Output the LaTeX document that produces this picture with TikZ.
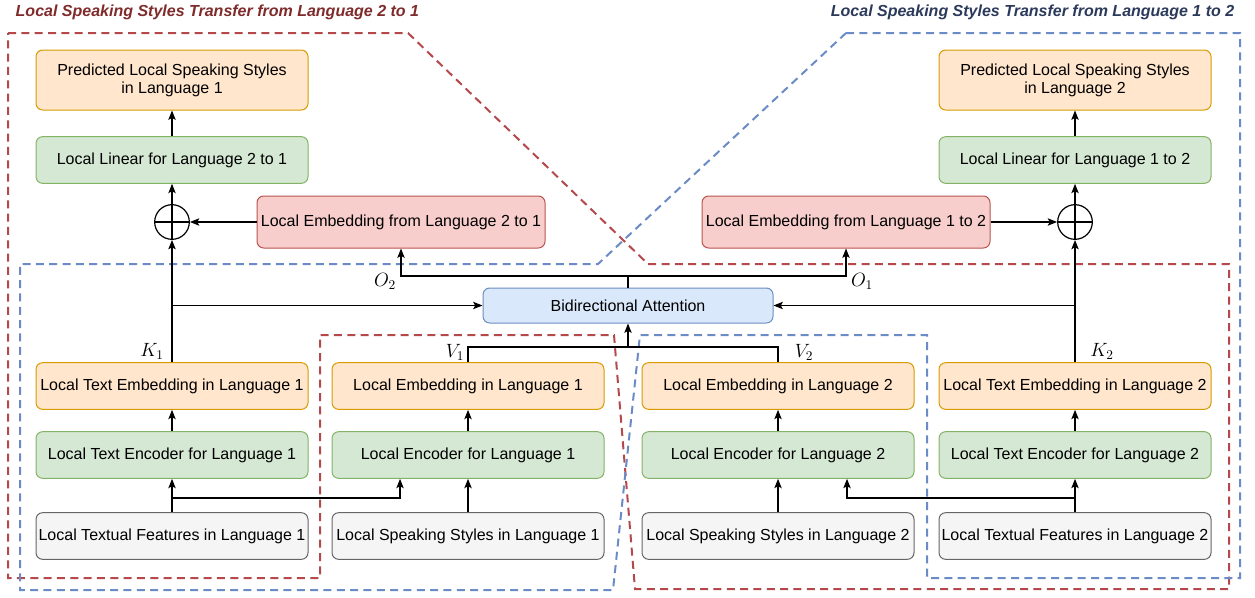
\documentclass[tikz,border=0pt]{standalone}
\usepackage[no-math]{fontspec}
\setmainfont{Liberation Sans}
\usepackage{xcolor}
\usetikzlibrary{arrows.meta}

\definecolor{orangefill}{HTML}{FFE6CC}
\definecolor{orangeline}{HTML}{D79B00}
\definecolor{greenfill}{HTML}{D5E8D4}
\definecolor{greenline}{HTML}{82B366}
\definecolor{redfill}{HTML}{F8CECC}
\definecolor{redline}{HTML}{B85450}
\definecolor{bluefill}{HTML}{DAE8FC}
\definecolor{blueline}{HTML}{6C8EBF}
\definecolor{greyfill}{HTML}{F5F5F5}
\definecolor{greyline}{HTML}{666666}
\definecolor{titlered}{HTML}{7F2B2B}
\definecolor{titleblue}{HTML}{2B3A5A}
\definecolor{regionred}{HTML}{B5484B}
\definecolor{regionblue}{HTML}{6A8BC5}

\begin{document}
\begin{tikzpicture}[x=0.75pt, y=-0.75pt,
  box/.style={rounded corners=5pt, line width=0.75pt, minimum width=204pt,
    minimum height=35pt, inner xsep=1pt, align=center,
    font=\fontsize{12}{13.5}\selectfont},
  orangebox/.style={box, draw=orangeline, fill=orangefill},
  greenbox/.style={box, draw=greenline, fill=greenfill},
  redbox/.style={box, draw=redline, fill=redfill, minimum width=216pt, minimum height=39pt},
  bluebox/.style={box, draw=blueline, fill=bluefill, minimum width=217.5pt, minimum height=26.25pt},
  greybox/.style={box, draw=greyline, fill=greyfill},
  oplus/.style={circle, draw, line width=0.9pt, minimum size=26pt, inner sep=0pt,
    path picture={\draw[line width=0.9pt] (path picture bounding box.north) -- (path picture bounding box.south)
      (path picture bounding box.west) -- (path picture bounding box.east);}},
  conn/.style={line width=0.9pt, -{Stealth[length=7pt,width=5.5pt,inset=1.5pt]}},
  wire/.style={line width=0.9pt},
  region/.style={line width=1.5pt, dash pattern=on 6pt off 4pt},
  lbl/.style={font=\fontsize{14}{16}\selectfont},
  title/.style={font=\fontsize{12}{14}\selectfont\bfseries\itshape}
]
  \useasboundingbox (0,0) rectangle (1255,597);

  % dashed regions
  \draw[region, regionred] (8,33) -- (408,33) -- (648,264) -- (1229,264) -- (1229,589)
    -- (635,589) -- (614,335) -- (320,335) -- (320,578) -- (8,578) -- cycle;
  \draw[region, regionblue] (846,33) -- (1240,33) -- (1240,578) -- (927,578) -- (927,335)
    -- (640,335) -- (613,590) -- (20,590) -- (20,264) -- (598,264) -- cycle;

  % titles
  \node[title, text=titlered, anchor=west] (title21) at (11,12) {Local Speaking Styles Transfer from Language 2 to 1};
  \node[title, text=titleblue, anchor=east] (title12) at (1239,12) {Local Speaking Styles Transfer from Language 1 to 2};

  % upper part, language 2 to 1
  \node[orangebox, minimum height=45pt] (pred1) at (172,80) {Predicted Local Speaking Styles\\in Language 1};
  \node[greenbox] (lin21) at (172,160) {Local Linear for Language 2 to 1};
  \node[oplus] (sum1) at (172,222) {};
  \node[redbox] (emb21) at (401,222) {Local Embedding from Language 2 to 1};

  % upper part, language 1 to 2
  \node[orangebox, minimum height=45pt] (pred2) at (1075,80) {Predicted Local Speaking Styles\\in Language 2};
  \node[greenbox] (lin12) at (1075,160) {Local Linear for Language 1 to 2};
  \node[oplus] (sum2) at (1075,222) {};
  \node[redbox] (emb12) at (846,222) {Local Embedding from Language 1 to 2};

  \node[bluebox] (att) at (628,305.5) {Bidirectional Attention};

  % embeddings
  \node[orangebox] (temb1) at (172,386) {Local Text Embedding in Language 1};
  \node[orangebox] (emb1) at (468,386) {Local Embedding in Language 1};
  \node[orangebox] (emb2) at (778,386) {Local Embedding in Language 2};
  \node[orangebox] (temb2) at (1075,386) {Local Text Embedding in Language 2};

  % encoders
  \node[greenbox] (tenc1) at (172,455) {Local Text Encoder for Language 1};
  \node[greenbox] (enc1) at (468,455) {Local Encoder for Language 1};
  \node[greenbox] (enc2) at (778,455) {Local Encoder for Language 2};
  \node[greenbox] (tenc2) at (1075,455) {Local Text Encoder for Language 2};

  % inputs
  \node[greybox] (feat1) at (172,536) {Local Textual Features in Language 1};
  \node[greybox] (style1) at (468,536) {Local Speaking Styles in Language 1};
  \node[greybox] (style2) at (778,536) {Local Speaking Styles in Language 2};
  \node[greybox] (feat2) at (1075,536) {Local Textual Features in Language 2};

  % inputs to encoders
  \coordinate (split1) at (172,498);
  \coordinate (split2) at (1075,498);
  \draw[conn] (feat1) -- (tenc1);
  \draw[conn] (split1) -| ([xshift=-51pt]enc1.south);
  \draw[conn] (style1) -- (enc1);
  \draw[conn] (style2) -- (enc2);
  \draw[conn] (feat2) -- (tenc2);
  \draw[conn] (split2) -| ([xshift=51.75pt]enc2.south);

  \draw[conn] (tenc1) -- (temb1);
  \draw[conn] (enc1) -- (emb1);
  \draw[conn] (enc2) -- (emb2);
  \draw[conn] (tenc2) -- (temb2);

  % keys and values into attention
  \coordinate (k1) at (temb1.north |- att.west);
  \coordinate (k2) at (temb2.north |- att.east);
  \coordinate (vmid) at (628,347);
  \draw[conn] (temb1) -- (sum1);
  \draw[conn] (k1) -- (att.west);
  \draw[conn] (temb2) -- (sum2);
  \draw[conn] (k2) -- (att.east);
  \draw[wire] (emb1.north) |- (vmid) -| (emb2.north);
  \draw[conn] (vmid) -- (att.south);

  % outputs of attention
  \coordinate (omid) at (628,276);
  \draw[wire] (att.north) -- (omid);
  \draw[conn] (omid) -| (emb21.south);
  \draw[conn] (omid) -| (emb12.south);

  \draw[conn] (emb21) -- (sum1);
  \draw[conn] (emb12) -- (sum2);
  \draw[conn] (sum1) -- (lin21);
  \draw[conn] (sum2) -- (lin12);
  \draw[conn] (lin21) -- (pred1);
  \draw[conn] (lin12) -- (pred2);

  % labels
  \node[lbl] (klab1) at (152,351) {$K_1$};
  \node[lbl] (vlab1) at (455,352) {$V_1$};
  \node[lbl] (vlab2) at (804,352) {$V_2$};
  \node[lbl] (klab2) at (1102,351) {$K_2$};
  \node[lbl] (olab2) at (385,281) {$O_2$};
  \node[lbl] (olab1) at (862,281) {$O_1$};
\end{tikzpicture}
\end{document}
